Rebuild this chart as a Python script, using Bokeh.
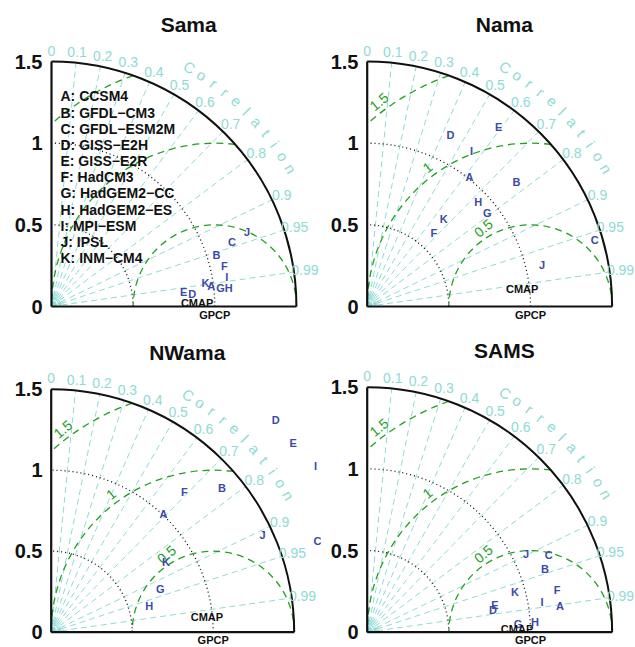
import numpy as np
from bokeh.plotting import figure
from bokeh.models import Range1d, FixedTicker, NumeralTickFormatter
from bokeh.layouts import gridplot
from bokeh.embed import file_html
from bokeh.resources import INLINE
from bokeh.core.properties import value

# ---------------- data ----------------
letters = ["A", "B", "C", "D", "E", "F", "G", "H", "I", "J", "K"]
models = ["CCSM4", "GFDL\u2212CM3", "GFDL\u2212ESM2M", "GISS\u2212E2H", "GISS\u2212E2R",
          "HadCM3", "HadGEM2\u2212CC", "HadGEM2\u2212ES", "MPI\u2212ESM", "IPSL", "INM\u2212CM4"]

# normalized standard deviation and correlation (vs GPCP) per region
sama_std = [0.986, 1.059, 1.174, 0.865, 0.815, 1.087, 1.041, 1.092, 1.088, 1.281, 0.954]
sama_cor = [0.992, 0.954, 0.942, 0.996, 0.994, 0.974, 0.994, 0.9945, 0.986, 0.935, 0.989]
sama_cmap = (0.892, 0.9997)

nama_std = [1.013, 1.192, 1.452, 1.170, 1.365, 0.607, 0.931, 0.936, 1.146, 1.101, 0.710]
nama_cor = [0.619, 0.767, 0.960, 0.436, 0.590, 0.672, 0.790, 0.727, 0.558, 0.973, 0.661]
nama_cmap = (0.955, 0.9937)

nwama_std = [1.008, 1.378, 1.738, 1.908, 1.896, 1.195, 0.724, 0.627, 1.926, 1.435, 0.831]
nwama_cor = [0.687, 0.765, 0.946, 0.726, 0.788, 0.688, 0.931, 0.965, 0.847, 0.909, 0.853]
nwama_cmap = (0.966, 0.995)

sams_std = [1.191, 1.155, 1.207, 0.782, 0.800, 1.192, 0.925, 1.029, 1.087, 1.085, 0.937]
sams_cor = [0.991, 0.942, 0.921, 0.985, 0.978, 0.976, 0.9985, 0.998, 0.985, 0.897, 0.965]
sams_cmap = (0.918, 0.9997)

ref_name = "GPCP"
obs_name = "CMAP"

corr_ticks = [0.0, 0.1, 0.2, 0.3, 0.4, 0.5, 0.6, 0.7, 0.8, 0.9, 0.95, 0.99]
corr_labels = ["0", "0.1", "0.2", "0.3", "0.4", "0.5", "0.6", "0.7", "0.8", "0.9", "0.95", "0.99"]
corr_minor = [0.05, 0.15, 0.25, 0.35, 0.45, 0.55, 0.65, 0.75, 0.85,
              0.91, 0.92, 0.93, 0.94, 0.96, 0.97, 0.98]
rms_levels = [0.5, 1.0, 1.5]
rms_labels = ["0.5", "1", "1.5"]
std_circles = [0.5, 1.0]
std_max = 1.5
std_ticks = [0, 0.5, 1, 1.5]

FONT = "Liberation Sans"
CYAN = "#8edbd5"
GREEN = "#22a022"
BLUE = "#3b4aa8"
BLACK = "#111111"


def panel(title, std, cor, cmap, W, H, ox, oy, s, frame_left, legend=False, rms_text=True):
    p = figure(width=W, height=H,
               x_range=Range1d((frame_left - ox) / s, (W - ox) / s),
               y_range=Range1d(-(H - oy) / s, oy / s),
               output_backend="svg", toolbar_location=None,
               x_axis_location=None, y_axis_location="left",
               min_border_left=frame_left, min_border_right=0,
               min_border_top=0, min_border_bottom=0)
    p.title.visible = False
    p.outline_line_color = None
    p.grid.grid_line_color = None
    ax = p.yaxis[0]
    ax.ticker = FixedTicker(ticks=std_ticks)
    ax.formatter = NumeralTickFormatter(format="0.[0]")
    ax.axis_line_color = None
    ax.major_tick_line_color = None
    ax.minor_tick_line_color = None
    ax.major_tick_out = 0
    ax.major_tick_in = 0
    ax.major_label_standoff = 3
    ax.major_label_text_font = FONT
    ax.major_label_text_font_size = "20px"
    ax.major_label_text_font_style = "bold"
    ax.major_label_text_color = BLACK

    # correlation rays
    rc = np.array([c for c in corr_ticks if c > 0])
    ang = np.arccos(rc)
    p.segment(x0=0, y0=0, x1=std_max * np.cos(ang), y1=std_max * np.sin(ang),
              line_color=CYAN, line_width=1, line_dash="6 4")
    am = np.arccos(np.array(corr_minor))
    p.segment(x0=0.012 * np.cos(am), y0=0.012 * np.sin(am),
              x1=0.075 * np.cos(am), y1=0.075 * np.sin(am),
              line_color=CYAN, line_width=1, line_dash="3 2")

    # centred RMS circles around the reference point (1,0)
    for rr, lab in zip(rms_levels, rms_labels):
        xi = (std_max ** 2 - rr ** 2 + 1) / 2
        if xi >= 1 + rr:
            a0 = 0.0
        else:
            yi = np.sqrt(max(std_max ** 2 - xi ** 2, 0))
            a0 = np.arctan2(yi, xi - 1)
        a1 = np.arctan2(np.sqrt(rr ** 2 - 1), -1) if rr >= 1 else np.pi
        p.arc(x=1, y=0, radius=rr, start_angle=a0, end_angle=a1,
              line_color=GREEN, line_width=1.3, line_dash="7 5")
        if rms_text:
            th = np.deg2rad(121 if rr < 1 else 126.5)
            p.text(x=[1 + (rr + 0.06) * np.cos(th)], y=[(rr + 0.06) * np.sin(th)], text=[lab],
                   angle=np.deg2rad(40), text_font=value(FONT), text_font_size="14px",
                   text_color=GREEN, text_align="center", text_baseline="middle")

    # std circles (dotted)
    p.arc(x=[0, 0], y=[0, 0], radius=std_circles, start_angle=0, end_angle=np.pi / 2,
          line_color=BLACK, line_width=1.3, line_dash="1 3")

    # outer arc and axes
    p.arc(x=0, y=0, radius=std_max, start_angle=0, end_angle=np.pi / 2,
          line_color=BLACK, line_width=2)
    p.segment(x0=[0, 0], y0=[0, 0], x1=[0, std_max], y1=[std_max, 0],
              line_color=BLACK, line_width=2.2)

    # correlation labels
    ca = np.arccos(np.array(corr_ticks))
    p.text(x=1.567 * np.cos(ca), y=1.567 * np.sin(ca), text=corr_labels,
           text_font=value(FONT), text_font_size="14px", text_color=CYAN,
           text_align="center", text_baseline="middle")
    word = list("Correlation")
    wa = np.deg2rad(60 - 3 * np.arange(len(word)))
    p.text(x=1.69 * np.cos(wa), y=1.69 * np.sin(wa), text=word, angle=wa - np.pi / 2,
           text_font=value(FONT), text_font_size="15px", text_color=CYAN,
           text_align="center", text_baseline="middle")

    # models
    sd = np.array(std)
    cc = np.array(cor)
    p.text(x=sd * cc, y=sd * np.sin(np.arccos(cc)), text=letters,
           text_font=value(FONT), text_font_size="11px", text_font_style="bold",
           text_color=BLUE, text_align="center", text_baseline="middle")
    # observations
    p.text(x=[cmap[0] * cmap[1]], y=[cmap[0] * np.sin(np.arccos(cmap[1]))], text=[obs_name],
           text_font=value(FONT), text_font_size="11px", text_font_style="bold",
           text_color=BLACK, text_align="center", text_baseline="middle")
    p.text(x=[1.0], y=[0.0], y_offset=8, text=[ref_name],
           text_font=value(FONT), text_font_size="11px", text_font_style="bold",
           text_color=BLACK, text_align="center", text_baseline="middle")

    # title
    p.text(x=[0.84], y=[1.725], text=[title], text_font=value(FONT), text_font_size="21px",
           text_font_style="bold", text_color=BLACK, text_align="center", text_baseline="middle")

    if legend:
        lt = [f"{l}: {m}" for l, m in zip(letters, models)]
        ly = 1.286 - 0.099 * np.arange(len(lt))
        p.text(x=[0.055] * len(lt), y=ly, text=lt, text_font=value(FONT), text_font_size="14px",
               text_font_style="bold", text_color=BLACK, text_align="left", text_baseline="middle")
    return p


p1 = panel("Sama", sama_std, sama_cor, sama_cmap, 321, 321, 51, 306, 163.3, 45,
           legend=True, rms_text=False)
p2 = panel("Nama", nama_std, nama_cor, nama_cmap, 314, 321, 45.7, 306, 163.3, 40)
p3 = panel("NWama", nwama_std, nwama_cor, nwama_cmap, 321, 326, 50.7, 310.7, 162.0, 45)
p4 = panel("SAMS", sams_std, sams_cor, sams_cmap, 314, 326, 45.7, 310.7, 163.3, 40)

grid = gridplot([[p1, p2], [p3, p4]], toolbar_location=None)
open("out.html", "w").write(file_html(grid, INLINE))
